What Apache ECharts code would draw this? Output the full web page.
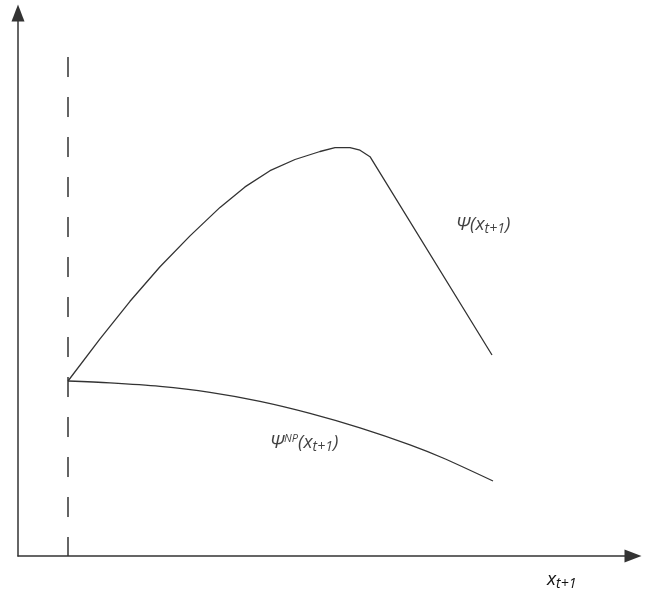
<!DOCTYPE html>
<html>
<head>
<meta charset="utf-8">
<script src="https://cdn.jsdelivr.net/npm/echarts@6/dist/echarts.min.js"></script>
<style>html,body{margin:0;padding:0;background:#fff}#c{width:649px;height:594px}</style>
</head>
<body>
<div id="c"></div>
<script>
// x values (horizontal units) and y values (vertical units)
const psiX   = [50, 82, 112, 142, 172, 202, 227, 252, 277, 302, 317, 332, 342, 352, 474];
const psiY   = [175, 217.2, 254.7, 289.2, 320.1, 348.6, 369.1, 385.3, 396.5, 404.5, 408.3, 408.3, 405.8, 399.3, 201];
const psiNPX = [50, 92, 142, 192, 242, 292, 342, 392, 425, 475];
const psiNPY = [175, 173.2, 169.7, 163.7, 154.7, 142.7, 128.2, 111.2, 98, 75];
const dashX  = [50, 50];
const dashY  = [499, 0];
const xMax = 615, yMax = 543;
const labelPsi   = [438, 331];
const labelPsiNP = [252, 113];

const zip = (a, b) => a.map((v, i) => [v, b[i]]);
const chart = echarts.init(document.getElementById('c'));
const fontFam = '"Open Sans", "DejaVu Sans", sans-serif';
const richMain = {
  a: {fontSize: 19, fontStyle: 'italic', fontFamily: fontFam, color: '#111'},
  s: {fontSize: 14, fontStyle: 'italic', fontFamily: fontFam, color: '#111', padding: [9, 0, 0, 0]},
  p: {fontSize: 11, fontStyle: 'italic', fontFamily: fontFam, color: '#111', padding: [0, 0, 8, 0]}
};
const axisLine = {show: true, symbol: ['none', 'triangle'], symbolSize: [13, 17], lineStyle: {color: '#333', width: 1.5}};
chart.setOption({
  animation: false,
  backgroundColor: '#fff',
  grid: {left: 18, right: 16, top: 13, bottom: 38},
  xAxis: {
    type: 'value', min: 0, max: xMax,
    axisLine: axisLine, axisTick: {show: false}, axisLabel: {show: false}, splitLine: {show: false},
    name: '{a|x}{s|t+1}',
    nameLocation: 'end', nameGap: -86,
    nameTextStyle: {align: 'left', verticalAlign: 'top', padding: [12, 0, 0, 0], rich: richMain}
  },
  yAxis: {
    type: 'value', min: 0, max: yMax,
    axisLine: axisLine, axisTick: {show: false}, axisLabel: {show: false}, splitLine: {show: false}
  },
  series: [
    {type: 'line', data: zip(dashX, dashY), symbol: 'none', lineStyle: {color: '#333', width: 1.5, type: [20, 20]}},
    {type: 'line', data: zip(psiX, psiY), symbol: 'none', lineStyle: {color: '#333', width: 1.3}},
    {type: 'line', data: zip(psiNPX, psiNPY), symbol: 'none', smooth: 0.3, lineStyle: {color: '#333', width: 1.3}},
    {type: 'scatter', symbolSize: 0, silent: true,
     data: [
       {value: labelPsi, label: {show: true, position: 'right', distance: 0, formatter: '{a|Ψ(x}{s|t+1}{a|)}', rich: richMain}},
       {value: labelPsiNP, label: {show: true, position: 'right', distance: 0, formatter: '{a|Ψ}{p|NP}{a|(x}{s|t+1}{a|)}', rich: richMain}}
     ]}
  ]
});
</script>
</body>
</html>
